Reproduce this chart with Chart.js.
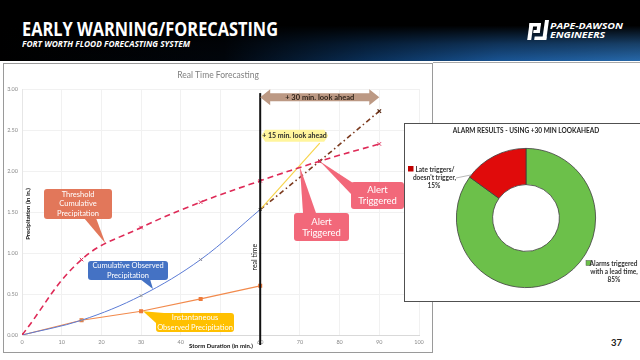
<!DOCTYPE html>
<html><head><meta charset="utf-8">
<script src="https://cdn.jsdelivr.net/npm/chart.js@4.4.1/dist/chart.umd.min.js"></script>
<style>
html,body{margin:0;padding:0;}
body{width:640px;height:360px;overflow:hidden;position:relative;background:#fff;font-family:Lato,'Open Sans',sans-serif;}
#hdr{position:absolute;left:0;top:0;width:640px;height:61px;background:
 linear-gradient(to bottom, #000 0%, #000 42%, rgba(0,0,0,0.45) 72%, rgba(0,0,0,0.1) 100%),
 linear-gradient(to right, #000 0%, #01060d 35%, #0b3563 58%, #1c5da3 78%, #2b74bd 100%);}
.fit{position:absolute;white-space:nowrap;transform-origin:0 0;color:#fff;line-height:1;}
#t1{left:22px;top:16px;font:bold 19px 'Open Sans';}
#t2{left:22px;top:37.5px;font:italic bold 8.5px 'Open Sans';}
#l1{left:550px;top:19px;font:italic bold 9.5px 'Open Sans';}
#l2{left:550px;top:28px;font:italic bold 9.5px 'Open Sans';}
#logo{position:absolute;left:527px;top:20px;}
#lineBox{position:absolute;left:3px;top:63px;width:428px;height:288px;border:1.5px solid #9a9a9a;background:#fff;}
#lineBox canvas{position:absolute;left:0;top:0;}
#topRule{position:absolute;left:433px;top:62px;width:207px;height:1px;background:#a8a8a8;}
#pieBox{position:absolute;left:404px;top:123px;width:250px;height:177px;border:1px solid #505050;background:#fff;}
#pieBox canvas{position:absolute;left:0;top:0;}
#num{position:absolute;left:611px;top:337px;font:bold 9.5px Lato;color:#222;}
</style></head>
<body>
<div id="hdr">
  <div class="fit" id="t1" data-w="256">EARLY WARNING/FORECASTING</div>
  <div class="fit" id="t2" data-w="168">FORT WORTH FLOOD FORECASTING SYSTEM</div>
  <svg id="logo" width="22" height="21" viewBox="0 0 22 21"><g fill="#fff" transform="skewX(-8) translate(2,0)">
    <rect x="1" y="3" width="4" height="17"/><rect x="1" y="3" width="11" height="3.5"/>
    <rect x="9" y="3" width="3.5" height="10"/><rect x="6" y="10" width="6.5" height="3"/>
    <rect x="16" y="0" width="4" height="20"/><rect x="8" y="16.5" width="12" height="3.5"/>
  </g></svg>
  <div class="fit" id="l1" data-w="73">PAPE-DAWSON</div>
  <div class="fit" id="l2" data-w="55">ENGINEERS</div>
</div>
<div id="topRule"></div>
<div id="lineBox"><canvas id="lc" width="428" height="288"></canvas></div>
<div id="pieBox"><canvas id="pc" width="250" height="177"></canvas></div>
<div id="num">37</div>
<script>
// ---- data ----
const xTicks = [0, 10, 20, 30, 40, 50, 60, 70, 80, 90, 100];
const yTicks = [0, 0.5, 1, 1.5, 2, 2.5, 3];
const observedMinutes = [0, 15, 30, 45, 60];
const cumulativeObserved = [0, 0.18, 0.48, 0.92, 1.53];
const instantaneousObserved = [0, 0.18, 0.29, 0.44, 0.60];
const thresholdMinutes = [0, 15, 30, 45, 60, 75, 90];
const thresholdCumulative = [0, 0.92, 1.31, 1.62, 1.88, 2.12, 2.33];
const lookahead15Minutes = [60, 75];
const lookahead15Forecast = [1.53, 2.34];
const lookahead30Minutes = [60, 75, 90];
const lookahead30Forecast = [1.53, 2.12, 2.73];
const alarmLabels = ['Alarms triggered with a lead time', "Late triggers/ doesn't trigger"];
const alarmShares = [85, 15];

document.querySelectorAll('.fit').forEach(el => {
  const w = el.getBoundingClientRect().width;
  el.style.transform = 'scaleX(' + (parseFloat(el.dataset.w) / w) + ')';
});

Chart.defaults.font.family = "Lato, 'Open Sans', sans-serif";
Chart.defaults.animation = false;

const pts = (xs, ys) => xs.map((v, i) => ({ x: v, y: ys[i] }));

function rr(ctx, x, y, w, h, r) {
  ctx.beginPath(); ctx.moveTo(x + r, y); ctx.lineTo(x + w - r, y); ctx.quadraticCurveTo(x + w, y, x + w, y + r);
  ctx.lineTo(x + w, y + h - r); ctx.quadraticCurveTo(x + w, y + h, x + w - r, y + h); ctx.lineTo(x + r, y + h);
  ctx.quadraticCurveTo(x, y + h, x, y + h - r); ctx.lineTo(x, y + r); ctx.quadraticCurveTo(x, y, x + r, y); ctx.closePath();
}

const lineAnno = {
  id: 'lineAnno',
  afterDatasetsDraw(chart) {
    const { ctx, scales: { x, y }, chartArea: ca } = chart;
    ctx.save();
    // chart title
    ctx.fillStyle = '#7f7f7f'; ctx.font = '8.5px Lato'; ctx.textAlign = 'center'; ctx.textBaseline = 'middle';
    ctx.fillText('Real Time Forecasting', 214, 11);
    // axis titles
    ctx.fillStyle = '#111'; ctx.font = 'bold 6px Lato';
    ctx.save(); ctx.translate(24.5, 150); ctx.rotate(-Math.PI / 2); ctx.fillText('Precipitation (in in.)', 0, 0); ctx.restore();
    const tw = ctx.measureText('Storm Duration (in min.)').width;
    ctx.fillStyle = '#fff'; ctx.fillRect(217 - tw / 2 - 2, 276, tw + 4, 9);
    ctx.fillStyle = '#111'; ctx.fillText('Storm Duration (in min.)', 217, 282);
    // real time line
    const rx = x.getPixelForValue(60);
    ctx.strokeStyle = '#111'; ctx.lineWidth = 2; ctx.beginPath();
    ctx.moveTo(rx, y.getPixelForValue(2.95)); ctx.lineTo(rx, ca.bottom + 10); ctx.stroke();
    ctx.save(); ctx.translate(rx - 5, y.getPixelForValue(0.95)); ctx.rotate(-Math.PI / 2);
    ctx.font = '7px Lato'; ctx.fillStyle = '#111'; ctx.fillText('real time', 0, 0); ctx.restore();
    // +30 arrow
    const a1 = x.getPixelForValue(60), a2 = x.getPixelForValue(90), ay = y.getPixelForValue(2.9);
    ctx.fillStyle = '#BC9984'; ctx.beginPath();
    ctx.moveTo(a1, ay); ctx.lineTo(a1 + 10, ay - 8); ctx.lineTo(a1 + 10, ay - 4); ctx.lineTo(a2 - 10, ay - 4);
    ctx.lineTo(a2 - 10, ay - 8); ctx.lineTo(a2, ay); ctx.lineTo(a2 - 10, ay + 8); ctx.lineTo(a2 - 10, ay + 4);
    ctx.lineTo(a1 + 10, ay + 4); ctx.lineTo(a1 + 10, ay + 8); ctx.closePath(); ctx.fill();
    ctx.fillStyle = '#2e2218'; ctx.font = 'bold 7.5px Lato';
    ctx.fillText('+ 30 min. look ahead', (a1 + a2) / 2, ay + 0.5);
    // +15 highlight
    const h1 = a1 + 1, h2 = a1 + 68, hy = y.getPixelForValue(2.43);
    ctx.fillStyle = '#FFF59C'; ctx.beginPath();
    ctx.moveTo(h1, hy); ctx.lineTo(h1 + 4, hy - 6); ctx.lineTo(h2 - 4, hy - 6); ctx.lineTo(h2, hy);
    ctx.lineTo(h2 - 4, hy + 6); ctx.lineTo(h1 + 4, hy + 6); ctx.closePath(); ctx.fill();
    ctx.fillStyle = '#2b2b2b'; ctx.font = 'bold 7px Lato'; ctx.textAlign = 'left';
    ctx.fillText('+ 15 min. look ahead', h1 + 1, hy + 0.5);
    // callouts
    const callouts = [
      { box: [40, 125, 68, 30], base: [[80, 154], [92, 154]], tip: [21, 1.12], color: '#E2775A', lines: ['Threshold', 'Cumulative', 'Precipitation'], size: 7.5, lh: 9.5 },
      { box: [84, 197, 80, 19], base: [[136, 215], [146, 215]], tip: [33, 0.56], color: '#4472C4', lines: ['Cumulative Observed', 'Precipitation'], size: 7.5, lh: 9.5 },
      { box: [152, 249, 78, 19], base: [[160, 249], [152, 259]], tip: [30.5, 0.29], color: '#FFC000', lines: ['Instantaneous', 'Observed Precipitation'], size: 7.5, lh: 9.5 },
      { box: [290, 149, 55, 28], base: [[299, 149], [312, 149]], tip: [70, 2.05], color: '#F2687A', lines: ['Alert', 'Triggered'], size: 9.5, lh: 11 },
      { box: [347, 118, 53, 27], base: [[349, 119], [347, 130]], tip: [75, 2.12], color: '#F2687A', lines: ['Alert', 'Triggered'], size: 9.5, lh: 11 }
    ];
    ctx.textAlign = 'center';
    callouts.forEach(c => {
      const [bx, by, bw, bh] = c.box;
      ctx.fillStyle = c.color;
      rr(ctx, bx, by, bw, bh, 3); ctx.fill();
      ctx.beginPath(); ctx.moveTo(c.base[0][0], c.base[0][1]);
      ctx.lineTo(x.getPixelForValue(c.tip[0]), y.getPixelForValue(c.tip[1]));
      ctx.lineTo(c.base[1][0], c.base[1][1]); ctx.closePath(); ctx.fill();
      ctx.fillStyle = '#fff'; ctx.font = c.size + 'px Lato';
      const n = c.lines.length;
      c.lines.forEach((t, i) => ctx.fillText(t, bx + bw / 2, by + bh / 2 + (i - (n - 1) / 2) * c.lh));
    });
    ctx.restore();
  }
};

new Chart(document.getElementById('lc'), {
  type: 'line',
  data: {
    datasets: [
      { label: 'Threshold Cumulative Precipitation', data: pts(thresholdMinutes, thresholdCumulative),
        borderColor: '#DE2A57', borderWidth: 1.6, borderDash: [6, 4], tension: 0.4, fill: false,
        pointStyle: 'crossRot', pointRadius: 2.5, pointBorderColor: '#DE2A57', pointBorderWidth: 1 },
      { label: 'Cumulative Observed Precipitation', data: pts(observedMinutes, cumulativeObserved),
        borderColor: '#5B7BD5', borderWidth: 1, tension: 0.35, fill: false,
        pointStyle: 'crossRot', pointRadius: 2, pointBorderColor: ['#999', '#999', '#999', '#889', '#333'], pointBorderWidth: 1 },
      { label: 'Instantaneous Observed Precipitation', data: pts(observedMinutes, instantaneousObserved),
        borderColor: '#F28A4C', borderWidth: 1.2, tension: 0, fill: false,
        pointStyle: 'rect', pointRadius: 2, pointBackgroundColor: '#EE7A3A', pointBorderColor: '#EE7A3A' },
      { label: '+15 min. look ahead', data: pts(lookahead15Minutes, lookahead15Forecast),
        borderColor: '#F7D44C', borderWidth: 1.2, pointRadius: 0, fill: false },
      { label: '+30 min. look ahead', data: pts(lookahead30Minutes, lookahead30Forecast),
        borderColor: '#7B3A1E', borderWidth: 1.6, borderDash: [5, 3, 1.5, 3], fill: false,
        pointStyle: 'crossRot', pointRadius: [0, 2, 2.5], pointBorderColor: '#5a2a14', pointBorderWidth: 1.3 }
    ]
  },
  options: {
    responsive: false,
    layout: { padding: { top: 25, right: 13, left: 0, bottom: 0 } },
    plugins: { legend: { display: false }, tooltip: { enabled: false }, title: { display: false } },
    scales: {
      x: { type: 'linear', min: 0, max: 100,
        afterBuildTicks: s => { s.ticks = xTicks.map(v => ({ value: v })); },
        afterFit: s => { s.height = 17; },
        ticks: { font: { size: 5.5 }, color: '#8a8a8a', padding: 4, maxRotation: 0, autoSkip: false },
        grid: { color: '#f1f1f1', drawTicks: false }, border: { color: '#d9d9d9' } },
      y: { min: 0, max: 3,
        afterBuildTicks: s => { s.ticks = yTicks.map(v => ({ value: v })); },
        afterFit: s => { s.width = 18; },
        ticks: { font: { size: 5.5 }, color: '#8a8a8a', padding: 4, callback: v => Number(v).toFixed(2) },
        grid: { color: '#f1f1f1', drawTicks: false }, border: { color: '#e6e6e6' } }
    }
  },
  plugins: [lineAnno]
});

const pieAnno = {
  id: 'pieAnno',
  afterDraw(chart) {
    const ctx = chart.ctx;
    ctx.save();
    ctx.fillStyle = '#262626'; ctx.font = 'bold 6.5px Lato'; ctx.textAlign = 'center'; ctx.textBaseline = 'middle';
    ctx.fillText('ALARM RESULTS - USING +30 MIN LOOKAHEAD', 121, 6.5);
    const meta = chart.getDatasetMeta(0);
    // late triggers label
    const red = meta.data[1];
    ctx.fillStyle = '#C00000'; ctx.fillRect(3, 42, 5.5, 5.5);
    ctx.fillStyle = '#333';
    ctx.fillText('Late triggers/', 30, 45.5);
    ctx.fillText("doesn't trigger,", 29.5, 53.5);
    ctx.fillText(Math.round(alarmShares[1]) + '%', 29, 62);
    const ang = red.startAngle + 0.04;
    ctx.strokeStyle = '#9a9a9a'; ctx.lineWidth = 0.7; ctx.beginPath();
    ctx.moveTo(51, 54); ctx.lineTo(red.x + Math.cos(ang) * red.outerRadius, red.y + Math.sin(ang) * red.outerRadius); ctx.stroke();
    // alarms label
    ctx.fillStyle = '#6CC04A'; ctx.fillRect(181, 136.5, 5, 5); ctx.strokeStyle = '#555'; ctx.lineWidth = 0.5; ctx.strokeRect(181, 136.5, 5, 5);
    ctx.fillStyle = '#333';
    ctx.fillText('Alarms triggered', 208.5, 139.5);
    ctx.fillText('with a lead time,', 209, 147.5);
    ctx.fillText(Math.round(alarmShares[0]) + '%', 209, 155.5);
    ctx.restore();
  }
};

new Chart(document.getElementById('pc'), {
  type: 'doughnut',
  data: { labels: alarmLabels, datasets: [{ data: alarmShares, backgroundColor: ['#6CC04A', '#E00B0B'], borderColor: '#3d3d3d', borderWidth: 0.8 }] },
  options: {
    responsive: false, cutout: '48%',
    layout: { padding: { left: 51, top: 24, right: 59, bottom: 13 } },
    plugins: { legend: { display: false }, tooltip: { enabled: false } }
  },
  plugins: [pieAnno]
});
</script>
</body></html>
